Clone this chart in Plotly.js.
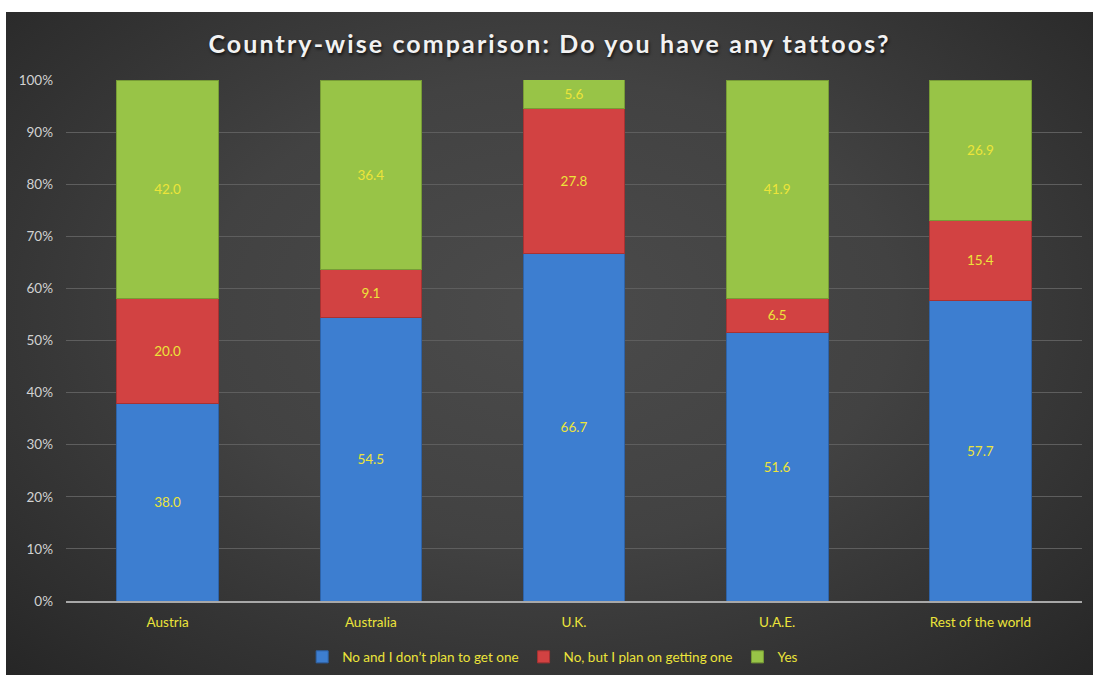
<!DOCTYPE html>
<html>
<head>
<meta charset="utf-8">
<script src="https://cdn.plot.ly/plotly-3.0.1.min.js"></script>
<style>
  html, body { margin: 0; padding: 0; background: #ffffff; width: 1098px; height: 675px; overflow: hidden; }
  #chart {
    position: absolute; left: 6px; top: 12px; width: 1087px; height: 663px;
    background: radial-gradient(ellipse at 50% 45%, #4b4b4b 0%, #424242 45%, #2e2e2e 85%, #262626 100%);
  }
  .gtitle { letter-spacing: 2.1px; text-shadow: 1px 2px 3px rgba(0,0,0,0.7); }
</style>
</head>
<body>
<div id="chart"></div>
<script>
const categories = ["Austria", "Australia", "U.K.", "U.A.E.", "Rest of the world"];
const noNoPlan = [38.0, 54.5, 66.7, 51.6, 57.7];
const noButPlan = [20.0, 9.1, 27.8, 6.5, 15.4];
const yes = [42.0, 36.4, 5.6, 41.9, 26.9];
const seriesNames = ["No and I don\u2019t plan to get one", "No, but I plan on getting one", "Yes"];
const yTickVals = [0, 10, 20, 30, 40, 50, 60, 70, 80, 90, 100];
const yTickText = ["0%", "10%", "20%", "30%", "40%", "50%", "60%", "70%", "80%", "90%", "100%"];

const font = "Lato, 'Open Sans', sans-serif";
const labelColor = "#ece43a";

function bar(name, values, color, lineColor) {
  return {
    type: "bar", name: name, x: categories, y: values,
    marker: { color: color, line: { color: lineColor, width: 1 } },
    text: values.map(v => v.toFixed(1)),
    textposition: "inside", insidetextanchor: "middle",
    textfont: { family: font, size: 13.5, color: labelColor },
    constraintext: "none",
    hoverinfo: "x+y+name"
  };
}

const data = [
  bar(seriesNames[0], noNoPlan, "#3d7ed0", "#2e63a8"),
  bar(seriesNames[1], noButPlan, "#d24242", "#a83232"),
  bar(seriesNames[2], yes, "#98c447", "#779c36")
];

const layout = {
  width: 1087, height: 663,
  paper_bgcolor: "rgba(0,0,0,0)", plot_bgcolor: "rgba(0,0,0,0)",
  margin: { l: 60, r: 11, t: 68, b: 74 },
  barmode: "stack", bargap: 0.5,
  title: {
    text: "<b>Country-wise comparison: Do you have any tattoos?</b>",
    font: { family: font, size: 25, color: "#f2f2f2" },
    x: 0.5, xanchor: "center", y: 0.952, yanchor: "middle"
  },
  xaxis: {
    type: "category",
    tickfont: { family: font, size: 13.5, color: labelColor },
    showline: true, linecolor: "#a8a8a8", linewidth: 2,
    ticks: "", showgrid: false, ticklabelstandoff: 8
  },
  yaxis: {
    range: [0, 100], tickmode: "array", tickvals: yTickVals, ticktext: yTickText,
    tickfont: { family: font, size: 13.5, color: "#d2d2d2" },
    gridcolor: "#5e5e5e", gridwidth: 1, zeroline: false,
    ticks: "", ticklabelstandoff: 12
  },
  legend: {
    orientation: "h", xref: "paper", x: 0.479, xanchor: "center",
    yref: "container", y: 0.027, yanchor: "middle",
    font: { family: font, size: 13.5, color: labelColor },
    traceorder: "normal", itemwidth: 30,
    bgcolor: "rgba(0,0,0,0)"
  },
  showlegend: true
};

Plotly.newPlot("chart", data, layout, { displayModeBar: false, staticPlot: true });
</script>
</body>
</html>
